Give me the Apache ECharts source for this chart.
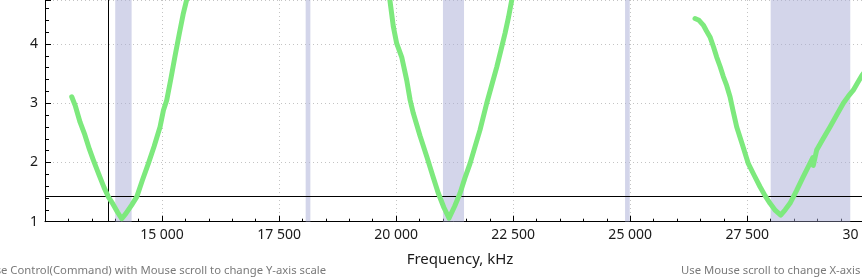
<!DOCTYPE html>
<html>
<head>
<meta charset="utf-8">
<script src="https://cdn.jsdelivr.net/npm/echarts@6/dist/echarts.min.js"></script>
<style>
html,body{margin:0;padding:0;background:#fff;overflow:hidden;}
#chart{width:862px;height:277px;}
</style>
</head>
<body>
<div id="chart"></div>
<script>
// Sweep 1 (kHz, SWR)
var sweep1 = [[13071,3.11],[13150,2.95],[13249,2.68],[13350,2.47],[13450,2.22],[13533,2.04],[13650,1.80],[13760,1.58],[13853,1.42],[13950,1.30],[14050,1.16],[14139,1.05],[14230,1.14],[14350,1.28],[14460,1.42],[14580,1.70],[14707,1.98],[14830,2.27],[14957,2.60],[15030,2.88],[15100,3.05],[15190,3.42],[15278,3.80],[15370,4.18],[15450,4.50],[15530,4.76],[15620,5.00]];
// Sweep 2
var sweep2 = [[19830,4.95],[19870,4.72],[19941,4.29],[20012,4.01],[20119,3.78],[20226,3.39],[20300,3.05],[20367,2.83],[20510,2.45],[20654,2.10],[20780,1.78],[20901,1.48],[21020,1.24],[21130,1.06],[21250,1.26],[21365,1.48],[21470,1.74],[21578,1.98],[21690,2.28],[21792,2.55],[21935,3.00],[22040,3.30],[22149,3.61],[22240,3.90],[22326,4.18],[22400,4.45],[22469,4.74],[22560,4.98]];
// Sweep 3
var sweep3 = [[26384,4.43],[26470,4.40],[26561,4.32],[26630,4.22],[26704,4.12],[26780,3.95],[26847,3.78],[26920,3.62],[26989,3.45],[27060,3.30],[27132,3.11],[27200,2.86],[27275,2.60],[27400,2.29],[27523,1.98],[27650,1.78],[27773,1.59],[27880,1.44],[27986,1.31],[28100,1.19],[28214,1.11],[28310,1.20],[28413,1.31],[28550,1.52],[28697,1.76],[28850,2.00],[28900,2.08],[28910,1.95],[28983,2.21],[29120,2.40],[29267,2.60],[29410,2.80],[29552,3.00],[29660,3.12],[29765,3.22],[29860,3.35],[29951,3.47],[30000,3.52]];
// Amateur bands (kHz)
var bands = [[14000,14350],[18068,18168],[21000,21450],[24890,24990],[28000,29700]];
// Cursor
var cursorFreq = 13853;
var cursorSwr = 1.43;
// Axis
var xMin = 12500, xMax = 30000, xStep = 2500;
var yMin = 1, yMax = 4.743, yStep = 1;
var xTitle = 'Frequency, kHz';
var hintLeft = 'Use Control(Command) with Mouse scroll to change Y-axis scale';
var hintRight = 'Use Mouse scroll to change X-axis';

var chart = echarts.init(document.getElementById('chart'), null, {renderer:'canvas'});
var FONT = 'Noto Sans';
function fmt(v){
  if (v === xMin) return '';
  var s = String(Math.round(v));
  return s.replace(/\B(?=(\d{3})+(?!\d))/g, ' ');
}
var lineStyle = {color:'#7de97d', width:5, cap:'round', join:'round'};
function sweepSeries(data){
  return {type:'line', data:data, showSymbol:false, symbol:'none', lineStyle:lineStyle, clip:true, z:5, animation:false, silent:true};
}
var s1 = sweepSeries(sweep1);
s1.markArea = {
  silent:true,
  itemStyle:{color:'rgba(168,172,214,0.5)'},
  data: bands.map(function(b){return [{xAxis:b[0]},{xAxis:b[1]}];})
};
s1.markLine = {
  silent:true, symbol:['none','none'], animation:false,
  label:{show:false},
  lineStyle:{color:'#000', width:1, type:'solid'},
  data:[{xAxis:cursorFreq},{yAxis:cursorSwr}]
};
chart.setOption({
  animation:false,
  backgroundColor:'#fff',
  grid:{left:45, right:-2.3, top:0, bottom:55.3, containLabel:false, outerBoundsMode:'none'},
  xAxis:{
    type:'value', min:xMin, max:xMax, interval:xStep,
    axisLine:{show:true, onZero:false, lineStyle:{color:'#000', width:1}},
    axisTick:{show:true, inside:true, length:6, lineStyle:{color:'#000'}},
    minorTick:{show:true, splitNumber:5, length:3, lineStyle:{color:'#000'}},
    axisLabel:{formatter:fmt, color:'#1a1a1a', fontSize:14, fontFamily:FONT, margin:6, hideOverlap:false},
    splitLine:{show:true, lineStyle:{color:'#c4c4c4', type:[1,3], width:1}}
  },
  yAxis:{
    type:'value', min:yMin, max:yMax, interval:yStep,
    axisLine:{show:true, onZero:false, lineStyle:{color:'#000', width:1}},
    axisTick:{show:true, inside:true, length:6, lineStyle:{color:'#000'}},
    minorTick:{show:true, splitNumber:5, length:4, lineStyle:{color:'#000'}},
    axisLabel:{color:'#1a1a1a', fontSize:14, fontFamily:FONT, margin:7, showMaxLabel:false},
    splitLine:{show:true, lineStyle:{color:'#c4c4c4', type:[1,3], width:1}}
  },
  graphic:[
    {type:'text', x:460, y:260, style:{text:xTitle, fill:'#1a1a1a', font:'15px "Noto Sans"', textAlign:'center', textVerticalAlign:'middle'}},
    {type:'text', x:326, y:271, style:{text:hintLeft, fill:'#7a7a7a', font:'11.3px "Noto Sans"', textAlign:'right', textVerticalAlign:'middle'}},
    {type:'text', x:681, y:271, style:{text:hintRight, fill:'#7a7a7a', font:'11.3px "Noto Sans"', textAlign:'left', textVerticalAlign:'middle'}}
  ],
  series:[s1, sweepSeries(sweep2), sweepSeries(sweep3)]
});
</script>
</body>
</html>
